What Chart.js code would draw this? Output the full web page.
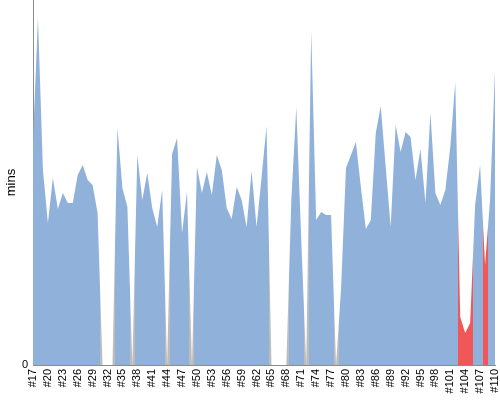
<!DOCTYPE html>
<html>
<head>
<meta charset="utf-8">
<script src="https://cdn.jsdelivr.net/npm/chart.js@4.4.1/dist/chart.umd.min.js"></script>
<style>
    html, body { margin: 0; padding: 0; background: #fff; }
    #wrap { width: 500px; height: 400px; }
</style>
</head>
<body>
<div id="wrap"><canvas id="runs"></canvas></div>
<script>
// run ids on the x axis
const runs = [
    '#17', '#18', '#19', '#20', '#21', '#22', '#23', '#24', '#25', '#26',
    '#27', '#28', '#29', '#30', '#31', '#32', '#33', '#34', '#35', '#36',
    '#37', '#38', '#39', '#40', '#41', '#42', '#43', '#44', '#45', '#46',
    '#47', '#48', '#49', '#50', '#51', '#52', '#53', '#54', '#55', '#56',
    '#57', '#58', '#59', '#60', '#61', '#62', '#63', '#64', '#65', '#66',
    '#67', '#68', '#69', '#70', '#71', '#72', '#73', '#74', '#75', '#76',
    '#77', '#78', '#79', '#80', '#81', '#82', '#83', '#84', '#85', '#86',
    '#87', '#88', '#89', '#90', '#91', '#92', '#93', '#94', '#95', '#96',
    '#97', '#98', '#99', '#100', '#101', '#102', '#103', '#104', '#105', '#106',
    '#107', '#108', '#109', '#110'
];

// duration of each run, in mins
const minutes = [
    45, 69.4, 39, 28.4, 37.4, 31.2, 34.4, 32.4, 32.4, 38,
    40, 37, 36, 30.4, 0, 0, 0, 47.4, 35.4, 31.6,
    0, 42, 33, 38.4, 31.4, 27.6, 35, 0, 42.2, 45.4,
    26.4, 34.6, 0, 39.6, 34.4, 38.6, 34, 42, 39, 31.4,
    29.2, 35.6, 33, 27.6, 38.8, 27.6, 37.4, 47.8, 0, 0,
    0, 0, 33, 51.6, 25, 0, 66.8, 29, 30.6, 30,
    30, 0, 15, 39.4, 42, 44.6, 35.6, 27.2, 29, 46.4,
    51.8, 39.6, 27.6, 48, 42.6, 46.6, 45.6, 37, 43.2, 32.4,
    50.4, 34.4, 32, 35, 43.6, 56.6, 9.6, 6.4, 8.4, 32,
    40, 20, 33, 59
];

// runs drawn in red
const lateRuns = ['#103', '#104', '#105', '#108'];

const yTicks = [0];

const BLUE = '#8fb1da';
const RED = '#f25757';
const GREY = '#bcbcbc';

function columnColor(i) {
    if (lateRuns.includes(runs[i])) return RED;
    if (minutes[i] === 0) return GREY;
    return BLUE;
}

// each run colours the strip half way to its neighbours
function columnFill(context) {
    const chart = context.chart;
    const area = chart.chartArea;
    const x = chart.scales.x;
    if (!area || !x) return BLUE;
    const g = chart.ctx.createLinearGradient(area.left, 0, area.right, 0);
    const w = area.right - area.left;
    const pos = p => Math.min(1, Math.max(0, (p - area.left) / w));
    g.addColorStop(0, columnColor(0));
    for (let i = 0; i < runs.length - 1; i++) {
        const a = columnColor(i), b = columnColor(i + 1);
        if (a === b) continue;
        const mid = (x.getPixelForValue(i) + x.getPixelForValue(i + 1)) / 2;
        g.addColorStop(pos(mid), a);
        g.addColorStop(pos(mid), b);
    }
    g.addColorStop(1, columnColor(runs.length - 1));
    return g;
}

const font = { family: 'Arial, "Liberation Sans", sans-serif', size: 11 };

let ctx = document.getElementById('runs').getContext('2d');
new Chart(ctx, {
    type: 'line',
    data: {
        labels: runs,
        datasets: [
            {
                data: minutes,
                fill: 'origin',
                backgroundColor: columnFill,
                borderWidth: 0,
                pointRadius: 0,
                tension: 0,
            }
        ],
    },
    options: {
        animation: false,
        responsive: true,
        maintainAspectRatio: false,
        layout: { padding: { top: 0, right: 5, left: 0, bottom: 0 } },
        plugins: {
            legend: { display: false },
            tooltip: { enabled: false },
        },
        scales: {
            x: {
                type: 'category',
                offset: false,
                z: 1,
                grid: { display: false, drawTicks: false },
                border: { color: '#8c8c8c' },
                ticks: {
                    autoSkip: false,
                    maxRotation: 90,
                    minRotation: 90,
                    padding: 4,
                    color: '#000',
                    font: font,
                    callback: (v, i) => i % 3 === 0 ? runs[i] : '',
                },
                afterFit: s => {
                    s.height = 35;
                    s.paddingLeft = 0;
                    s.paddingRight = 0;
                },
            },
            y: {
                min: 0,
                max: 73,
                z: 1,
                grid: { display: false, drawTicks: false },
                border: { color: '#8c8c8c' },
                title: {
                    display: true,
                    text: 'mins',
                    color: '#000',
                    font: { family: font.family, size: 13 },
                    padding: 4,
                },
                ticks: { color: '#000', font: font, padding: 5 },
                afterBuildTicks: s => { s.ticks = yTicks.map(v => ({ value: v })); },
                afterFit: s => {
                    s.width = 33;
                    s.paddingTop = 0;
                    s.paddingBottom = 0;
                },
            }
        }
    }
});
</script>
</body>
</html>
